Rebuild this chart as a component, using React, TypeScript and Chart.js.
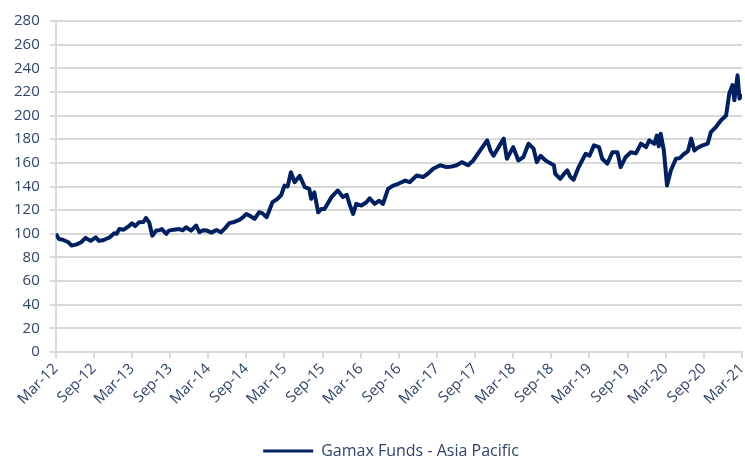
import React, { useEffect, useRef } from "react";
import { Chart, registerables } from "chart.js";

Chart.register(...registerables);

const seriesName = "Gamax Funds - Asia Pacific";

const tickLabels = [
  "Mar-12", "Sep-12", "Mar-13", "Sep-13", "Mar-14", "Sep-14", "Mar-15", "Sep-15",
  "Mar-16", "Sep-16", "Mar-17", "Sep-17", "Mar-18", "Sep-18", "Mar-19", "Sep-19",
  "Mar-20", "Sep-20", "Mar-21",
];

// months elapsed since Mar-12
const months = [
  0, 0.5, 1.1, 2.0, 2.5, 3.3, 4.0, 4.7, 5.5, 6.3, 6.8, 7.4, 7.9, 8.5, 9.2, 9.6, 10.0, 10.7, 11.4, 12.0,
  12.5, 13.1, 13.8, 14.2, 14.7, 15.2, 15.8, 16.3, 16.7, 17.4, 17.8, 18.6, 19.4, 20.0, 20.5, 21.3, 22.1, 22.6, 23.2, 23.8,
  24.5, 25.3, 26.0, 26.7, 27.3, 28.1, 28.9, 29.5, 30.0, 30.6, 31.3, 32.0, 32.5, 33.2, 34.1, 34.9, 35.5, 36.0, 36.5, 37.0,
  37.6, 38.4, 39.2, 39.9, 40.2, 40.7, 41.3, 41.8, 42.3, 43.4, 43.9, 44.4, 45.2, 45.8, 46.3, 46.8, 47.3, 48.1, 48.9, 49.4,
  50.2, 50.9, 51.5, 52.3, 53.1, 53.9, 55.0, 55.7, 56.8, 57.8, 58.6, 59.4, 60.5, 61.5, 62.4, 63.1, 63.9, 64.9, 65.7, 66.8,
  67.9, 68.4, 68.9, 69.7, 70.5, 71.0, 72.0, 72.8, 73.6, 74.4, 75.2, 75.7, 76.3, 77.1, 77.7, 78.4, 78.6, 79.4, 79.9, 80.5,
  81.0, 81.5, 82.3, 83.4, 84.0, 84.7, 85.5, 86.0, 86.8, 87.6, 88.4, 88.9, 89.7, 90.5, 91.3, 92.1, 92.9, 93.4, 94.2, 94.6,
  94.9, 95.2, 95.7, 96.2, 96.8, 97.6, 98.2, 98.9, 99.5, 100.0, 100.5, 101.1, 101.8, 102.6, 103.1, 103.9, 104.7, 105.5, 106.0, 106.5,
  106.8, 107.3, 107.6, 108.0,
];

const values = [
  100, 95.6, 95, 92.8, 90, 91, 92.8, 96.5, 94, 97, 94, 94.5, 95.6, 97, 100.4, 100, 104, 103.5, 106, 108.8,
  106.5, 109.7, 110, 113.4, 109.7, 98.4, 102.7, 103, 104, 99.9, 102.7, 103.5, 104, 103, 105.5, 102.7, 107, 101.3, 103, 102.7,
  101, 103.2, 101.3, 105, 109, 110, 111.7, 114, 116.8, 115, 112.6, 118.2, 117.5, 114, 126.7, 129.5, 133, 140.8, 140, 152,
  143.6, 149, 139.4, 138, 129.6, 135, 118.2, 121, 121, 131, 134, 136.6, 131, 133, 124, 116.8, 125.3, 123.9, 126.7, 130,
  125.3, 128, 125.3, 138, 140.8, 142.3, 145, 143.6, 149.3, 148, 151, 155, 158, 156.4, 157, 158, 160.6, 158, 162, 170.5,
  179, 170.5, 166, 173.3, 180.5, 163.5, 173.3, 162, 164.9, 176.2, 172, 160.6, 166, 162, 160, 158, 150.8, 146.5, 150, 153.6,
  148, 145.7, 156.4, 167.7, 166, 174.8, 173.3, 163.5, 159.3, 169, 169, 156.4, 165, 169, 168, 176.2, 173.3, 179, 176, 183,
  174, 184.7, 170.5, 140.8, 153.6, 163.5, 164, 167.7, 170, 180.5, 170.5, 173, 174.8, 176.2, 186, 190.3, 196, 200, 218.7, 225.7,
  213, 234, 214.4, 218,
];

const TEXT = "#2F4468";
const GRID = "#d9d9d9";
const LINE = "#002060";
const FONT = "'Open Sans', 'DejaVu Sans', sans-serif";

const legendShift = {
  id: "legendShift",
  afterLayout(chart: any) {
    const lg = chart.legend;
    if (lg) {
      lg.left += 18;
      lg.right += 18;
    }
  },
};

export default function App() {
  const ref = useRef<HTMLCanvasElement | null>(null);

  useEffect(() => {
    document.body.style.margin = "0";
    const ctx = ref.current;
    if (!ctx) return;
    const points = months.map((m, i) => ({ x: m, y: values[i] }));
    const chart = new Chart(ctx, {
      type: "line",
      data: {
        datasets: [
          {
            label: seriesName,
            data: points,
            borderColor: LINE,
            backgroundColor: LINE,
            borderWidth: 4,
            pointRadius: 0,
            tension: 0,
            borderJoinStyle: "round",
          },
        ],
      },
      plugins: [legendShift],
      options: {
        animation: false,
        responsive: false,
        maintainAspectRatio: false,
        layout: { padding: { left: 4, right: 3, top: 21, bottom: -12 } },
        plugins: {
          tooltip: { enabled: false },
          legend: {
            position: "bottom",
            labels: {
              boxWidth: 50,
              boxHeight: 3,
              color: TEXT,
              font: { family: FONT, size: 16 },
              padding: 1,
              generateLabels: (c: any) => {
                const items = Chart.defaults.plugins.legend.labels.generateLabels(c);
                return items.map((it: any) => ({ ...it, lineWidth: 0, fillStyle: LINE }));
              },
            },
          },
        },
        scales: {
          x: {
            type: "linear",
            min: 0,
            max: 108,
            afterFit: (scale: any) => {
              scale.paddingRight = 0;
              scale.height = 90;
            },
            ticks: {
              stepSize: 6,
              autoSkip: false,
              minRotation: 45,
              maxRotation: 45,
              color: TEXT,
              font: { family: FONT, size: 15 },
              padding: 2,
              callback: (v: any) => {
                const i = Math.round(Number(v) / 6);
                return Number(v) % 6 === 0 ? tickLabels[i] : "";
              },
            },
            grid: {
              drawOnChartArea: false,
              drawTicks: true,
              tickLength: 6,
              color: GRID,
              lineWidth: 2,
            },
            border: { color: GRID, width: 2 },
          },
          y: {
            min: 0,
            max: 280,
            afterFit: (scale: any) => {
              scale.paddingTop = 0;
            },
            ticks: {
              stepSize: 20,
              color: TEXT,
              font: { family: FONT, size: 15 },
              padding: 10,
            },
            grid: {
              color: GRID,
              lineWidth: 2,
              tickLength: 6,
            },
            border: { color: GRID, width: 2 },
          },
        },
      },
    });
    return () => chart.destroy();
  }, []);

  return (
    <div style={{ width: 745, height: 457, background: "#fff" }}>
      <canvas ref={ref} width={745} height={457} style={{ display: "block" }} />
    </div>
  );
}
